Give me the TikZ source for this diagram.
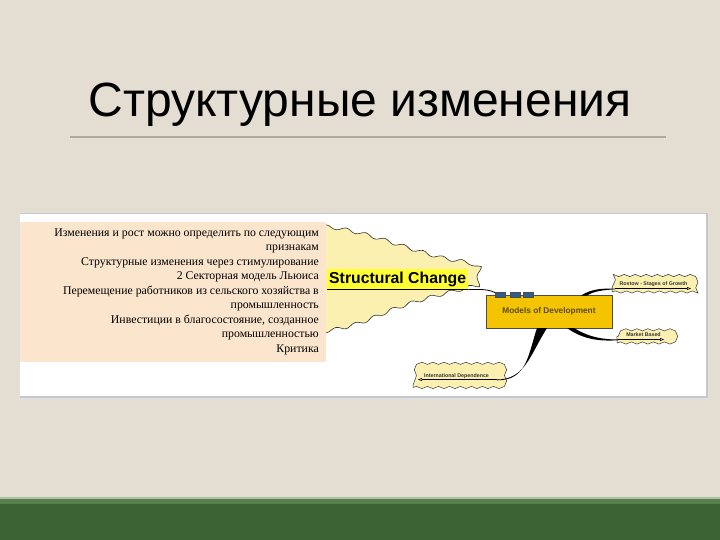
\documentclass[tikz,border=0pt]{standalone}
\usepackage{fontspec}
\setmainfont{Liberation Serif}
\newfontfamily\arialf{Liberation Sans}
\usetikzlibrary{decorations.pathmorphing,arrows.meta}
\definecolor{bgc}{HTML}{E3DDD2}
\definecolor{greenA}{HTML}{3C6432}
\definecolor{greenB}{HTML}{5A7F4E}
\definecolor{rulec}{HTML}{B0A89A}
\definecolor{peach}{HTML}{FBE5CC}
\definecolor{cloudy}{HTML}{FBF0B0}
\definecolor{hiy}{HTML}{FFFF33}
\definecolor{gold}{HTML}{F5C400}
\definecolor{bluesq}{HTML}{2E5F8A}
\definecolor{goldtext}{HTML}{5A4A10}
\tikzset{
  wavy/.style={decorate,decoration={snake,amplitude=1.1pt,segment length=11pt}},
  smallcloud/.style={draw=black!80,fill=cloudy,line width=0.5pt,wavy},
  smalltxt/.style={font=\arialf\fontsize{5.3}{6}\selectfont\bfseries,text=black!80},
  tip/.style={black,line width=0.5pt,-{Triangle[open,length=4pt,width=3pt]}},
  bsq/.style={draw=black!70,fill=bluesq,line width=0.3pt,minimum width=10pt,minimum height=5pt,inner sep=0pt}
}
\begin{document}
\begin{tikzpicture}[x=1pt,y=-1pt]
\useasboundingbox (0,0) rectangle (720,540);
\fill[bgc] (0,0) rectangle (720,540);
% bottom bar
\fill[greenB!50!white] (0,497) rectangle (720,499);
\fill[greenB] (0,499) rectangle (720,504);
\fill[greenA] (0,504) rectangle (720,540);
% title
\node[font=\arialf\fontsize{48}{54}\selectfont,anchor=base] (title) at (360,117) {Структурные изменения};
\draw[rulec,line width=1.2pt] (70,137) -- (666,137);
% panel with soft shadow
\fill[black!12] (19,212) rectangle (709,400);
\fill[black!22] (20,213.5) rectangle (708,398);
\node[fill=white,minimum width=686pt,minimum height=182pt,inner sep=0pt,anchor=north west] (panel) at (20,214) {};
% big cloud
\draw[black!80,fill=cloudy,line width=0.6pt,decorate,decoration={snake,amplitude=1.8pt,segment length=20pt}]
  (320,226) .. controls (360,230) and (400,248) .. (440,258) .. controls (460,262) and (472,262) .. (476,270)
  -- (474,292) .. controls (440,300) and (400,310) .. (370,325) .. controls (350,333) and (335,336) .. (320,338) -- cycle;
% Structural Change label
\node[fill=hiy,font=\arialf\fontsize{15.8}{17}\selectfont\bfseries,inner xsep=2pt,inner ysep=3pt,anchor=west] (sc) at (327,279) {Structural Change};
\draw[black,line width=0.8pt] (sc.south west) -- (sc.south east);
% models box
\node[draw=black!70,fill=gold,line width=0.6pt,minimum width=126pt,minimum height=33pt,inner sep=0pt,font=\arialf\fontsize{8.3}{10}\selectfont\bfseries,text=goldtext] (mod) at (549,311.5) {Models of Development};
\coordinate (modin) at (496,293);
\draw[black,line width=0.8pt] (sc.south east) .. controls (485,289) and (490,290) .. (modin);
\node[bsq] (b1) at (500,295) {};
\node[bsq] (b2) at (515,295) {};
\node[bsq] (b3) at (528.5,295) {};
% small clouds
\node[smallcloud,smalltxt,minimum width=83pt,minimum height=16pt,inner sep=1pt] (ros) at (653.5,284) {\raisebox{1.5pt}{Rostow - Stages of Growth}};
\node[smallcloud,smalltxt,minimum width=53pt,minimum height=16pt,inner sep=1pt] (mkt) at (643.5,335) {\raisebox{1.5pt}{Market Based}};
\node[smallcloud,smalltxt,minimum width=87pt,minimum height=22pt,inner sep=1pt] (intl) at (456.5,376.5) {\raisebox{2pt}{International Dependence}};
% connectors
\coordinate (rosin) at (615,288.5);
\coordinate (rosend) at (691,288.5);
\fill[black] (581,295.5) .. controls (592,288.5) and (603,288.5) .. (rosin) -- ++(0,0.8) .. controls (604,290) and (594,291) .. (587,295.5) -- cycle;
\draw[tip] (rosin) -- (rosend);
\coordinate (mktin) at (618,339.5);
\coordinate (mktend) at (664,339.5);
\fill[black] (574,328) .. controls (590,338) and (605,339.5) .. (mktin) -- ++(0,0.8) .. controls (603,341) and (585,341) .. (567,328) -- cycle;
\draw[tip] (mktin) -- (mktend);
\coordinate (intlin) at (497,379.5);
\coordinate (intlend) at (418,379.5);
\fill[black] (547,328) .. controls (530,355) and (525,379.5) .. (intlin) -- ++(0,0.8) .. controls (527,380.5) and (528,355) .. (537,328) -- cycle;
\draw[tip] (intlin) -- (intlend);
% text box
\fill[peach] (20,222) rectangle (326,362);
\node[anchor=north east,align=right,inner sep=0pt,font=\fontsize{11.8}{14.5}\selectfont] (txt) at (319,228.5) {Изменения и рост можно определить по следующим\\признакам\\Структурные изменения через стимулирование\\2 Секторная модель Льюиса\\Перемещение работников из сельского хозяйства в\\промышленность\\Инвестиции в благосостояние, созданное\\промышленностью\\Критика};
\end{tikzpicture}
\end{document}
